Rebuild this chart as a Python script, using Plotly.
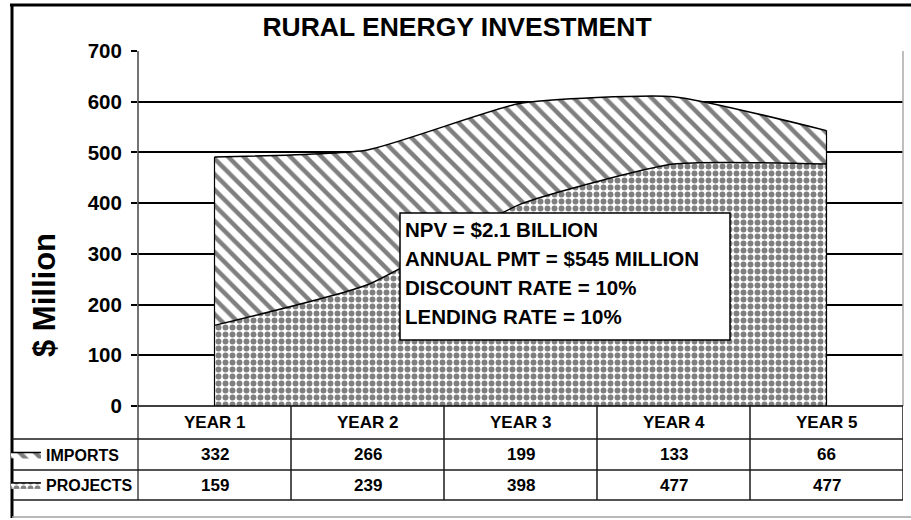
import plotly.graph_objects as go

# ---------------- data ----------------
years = ["YEAR 1", "YEAR 2", "YEAR 3", "YEAR 4", "YEAR 5"]
imports = [332, 266, 199, 133, 66]
projects = [159, 239, 398, 477, 477]
series_names = ["IMPORTS", "PROJECTS"]
title_text = "RURAL ENERGY INVESTMENT"
y_title = "$ Million"
y_ticks = [0, 100, 200, 300, 400, 500, 600, 700]
note_lines = ["NPV = $2.1 BILLION", "ANNUAL PMT = $545 MILLION",
              "DISCOUNT RATE = 10%", "LENDING RATE = 10%"]

# ---------------- geometry helpers (pixel -> paper) ----------------
W, H = 911, 520
L, R, T, B = 138, 903, 51, 406


def pxx(p):
    return (p - L) / (R - L)


def pyy(p):
    return (B - p) / (B - T)


FONT = "Liberation Sans, Arial, sans-serif"
totals = [a + b for a, b in zip(imports, projects)]

fig = go.Figure()

fig.add_trace(go.Scatter(
    x=years, y=projects, name=series_names[1], stackgroup="one",
    mode="lines", line=dict(color="black", width=1.5, shape="spline", smoothing=0.5),
    fillcolor="white",
    fillpattern=dict(shape=".", fgcolor="black", bgcolor="white", size=7, solidity=0.55),
    legend="legend2", hoverinfo="skip",
))
fig.add_trace(go.Scatter(
    x=years, y=imports, name=series_names[0], stackgroup="one",
    mode="lines", line=dict(color="black", width=1.5, shape="spline", smoothing=0.5),
    fillcolor="white",
    fillpattern=dict(shape="\\", fgcolor="black", bgcolor="white", size=11, solidity=0.4),
    legend="legend", hoverinfo="skip",
))
# outline of the stacked area (vertical edges)
fig.add_trace(go.Scatter(
    x=[years[0], years[0]], y=[0, totals[0]], mode="lines",
    line=dict(color="black", width=1.2), showlegend=False, hoverinfo="skip"))
fig.add_trace(go.Scatter(
    x=[years[-1], years[-1]], y=[0, totals[-1]], mode="lines",
    line=dict(color="black", width=1.2), showlegend=False, hoverinfo="skip"))

shapes = []
line_c = "#1a1a1a"
# outer frame
shapes.append(dict(type="line", xref="paper", yref="paper", x0=pxx(10), x1=pxx(911),
                   y0=pyy(5), y1=pyy(5), line=dict(color="black", width=3)))
shapes.append(dict(type="line", xref="paper", yref="paper", x0=pxx(12), x1=pxx(12),
                   y0=pyy(4), y1=pyy(518), line=dict(color="black", width=3)))
shapes.append(dict(type="line", xref="paper", yref="paper", x0=pxx(12), x1=pxx(911),
                   y0=pyy(517), y1=pyy(517), line=dict(color="#a0a0a0", width=1.5)))
# plot right edge
shapes.append(dict(type="line", xref="paper", yref="paper", x0=1, x1=1,
                   y0=0, y1=1, line=dict(color="#a8a8a8", width=1.5)))
# left axis line through table
shapes.append(dict(type="line", xref="paper", yref="paper", x0=0, x1=0,
                   y0=pyy(500), y1=1, line=dict(color="#444", width=1.5)))
# zero line
shapes.append(dict(type="line", xref="paper", yref="paper", x0=0, x1=1,
                   y0=0, y1=0, line=dict(color="black", width=1.5), layer="above"))
# table horizontal lines
for yy in (439, 470, 500):
    shapes.append(dict(type="line", xref="paper", yref="paper", x0=pxx(12), x1=1,
                       y0=pyy(yy), y1=pyy(yy), line=dict(color=line_c, width=1.5)))
# table vertical lines at category boundaries
for i in range(len(years)):
    shapes.append(dict(type="line", xref="x", yref="paper", x0=i + 0.5, x1=i + 0.5,
                       y0=pyy(500), y1=0, line=dict(color=line_c, width=1.5)))
# note box
shapes.append(dict(type="rect", xref="paper", yref="paper", x0=pxx(400), x1=pxx(730),
                   y0=pyy(340), y1=pyy(213), line=dict(color="black", width=1.5),
                   fillcolor="white", layer="above"))

annotations = []
# y-axis title
annotations.append(dict(text=y_title, xref="paper", yref="paper", x=pxx(44), y=pyy(295),
                        xanchor="center", yanchor="middle",
                        textangle=-90, showarrow=False,
                        font=dict(family=FONT, size=31, color="black", weight="bold")))
TFONT = dict(family=FONT, size=17, color="black", weight="bold")
# header and value rows
for i, yr in enumerate(years):
    annotations.append(dict(text=yr, xref="x", yref="paper", x=i, y=pyy(422.5),
                            yanchor="middle", showarrow=False, font=TFONT))
    annotations.append(dict(text=str(imports[i]), xref="x", yref="paper", x=i, y=pyy(454.5),
                            yanchor="middle", showarrow=False, font=TFONT))
    annotations.append(dict(text=str(projects[i]), xref="x", yref="paper", x=i, y=pyy(485),
                            yanchor="middle", showarrow=False, font=TFONT))
# note text
for k, t in enumerate(note_lines):
    annotations.append(dict(text=t, xref="paper", yref="paper", x=pxx(403), y=pyy(229 + 29 * k),
                            xanchor="left", yanchor="middle", showarrow=False,
                            font=dict(family=FONT, size=20.5, color="black", weight="bold")))

leg_common = dict(xref="paper", yref="paper", xanchor="left", yanchor="middle",
                  bgcolor="rgba(0,0,0,0)", borderwidth=0, itemwidth=30,
                  font=dict(family=FONT, size=16, color="black", weight="bold"))

fig.update_layout(
    width=W, height=H,
    margin=dict(l=L, r=W - R, t=T, b=H - B, pad=0, autoexpand=False),
    paper_bgcolor="white", plot_bgcolor="white",
    title=dict(text=title_text, x=457 / W, y=1 - 27 / H, xref="container", yref="container",
               xanchor="center", yanchor="middle",
               font=dict(family=FONT, size=26.5, color="black", weight="bold")),
    xaxis=dict(type="category", range=[-0.5, len(years) - 0.5], showticklabels=False,
               showgrid=False, zeroline=False, showline=False, ticks="", fixedrange=True),
    yaxis=dict(range=[0, 700], tickvals=y_ticks, showgrid=True, gridcolor="black",
               gridwidth=2, zeroline=False, showline=False, ticks="outside", ticklen=6,
               tickwidth=1.5, tickcolor="black", ticklabelstandoff=5,
               tickfont=dict(family=FONT, size=20.5, color="black", weight="bold"),
               fixedrange=True),
    legend=dict(x=pxx(6), y=pyy(454.5), **leg_common),
    legend2=dict(x=pxx(6), y=pyy(485), **leg_common),
    shapes=shapes,
    annotations=annotations,
    showlegend=True,
)

fig.write_html("out.html", config={"displayModeBar": False},
               post_script="document.body.style.margin='0px';document.body.style.overflow='hidden';")
